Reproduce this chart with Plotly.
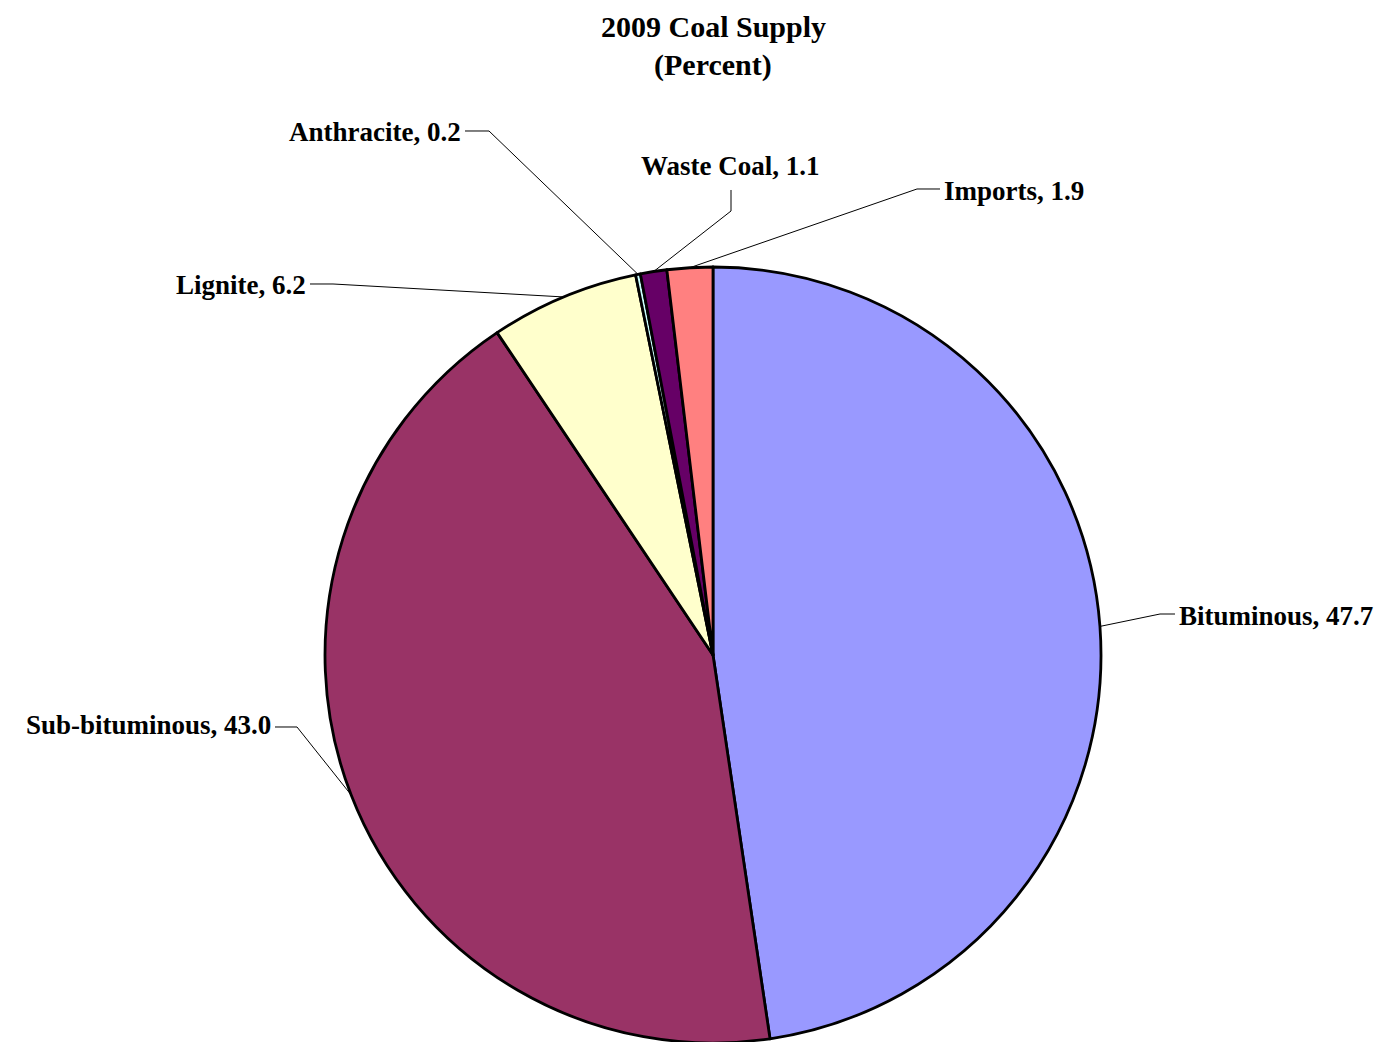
import numpy as np
import plotly.graph_objects as go

# Данные (проценты)
labels = ['Bituminous', 'Sub-bituminous', 'Lignite', 'Anthracite', 'Waste Coal', 'Imports']
values = [47.7, 43.0, 6.2, 0.2, 1.1, 1.9]
colors = ['#9999FF', '#993366', '#FFFFCC', '#CCFFFF', '#660066', '#FF8080']

W, H = 1386, 1042
OFF = 8  # отступ body на странице
# Геометрия круга в пикселях страницы
cx, cy, r = 713, 655, 388

# Точки излома выносок и позиция подписи (пиксели страницы)
elbows = {
    'Bituminous': ((1160, 614), (1175, 614), (1177, 616), 'left'),
    'Sub-bituminous': ((297, 727), (275, 727), (273, 725), 'right'),
    'Lignite': ((333, 284), (310, 284), (308, 285), 'right'),
    'Anthracite': ((489, 131), (465, 131), (463, 132), 'right'),
    'Waste Coal': ((731, 211), (731, 190), (730, 166), 'center'),
    'Imports': ((917, 189), (940, 189), (942, 191), 'left'),
}


def px(x, y):
    return (x - OFF) / W, 1 - (y - OFF) / H


fig = go.Figure()

x0, y0 = px(cx - r, cy + r)
x1, y1 = px(cx + r, cy - r)
fig.add_trace(go.Pie(
    labels=labels,
    values=values,
    sort=False,
    direction='clockwise',
    rotation=0,
    marker=dict(colors=colors, line=dict(color='black', width=2.8)),
    textinfo='none',
    hoverinfo='label+value',
    showlegend=False,
    domain=dict(x=[x0, x1], y=[max(y0, 0), y1]),
))

# Выноски: от середины сектора до подписи
total = sum(values)
cum = np.cumsum(values) - np.array(values) / 2
for lab, val, c in zip(labels, values, cum):
    ang = np.deg2rad(c / total * 360)
    sx, sy = cx + r * np.sin(ang), cy - r * np.cos(ang)
    (ex, ey), (hx, hy), (tx, ty), anchor = elbows[lab]
    pts = [(sx, sy), (ex, ey), (hx, hy)]
    path = 'M ' + ' L '.join('%f,%f' % px(x, y) for x, y in pts)
    fig.add_shape(type='path', path=path, xref='paper', yref='paper',
                  line=dict(color='black', width=1))
    ax, ay = px(tx, ty)
    fig.add_annotation(
        x=ax, y=ay, xref='paper', yref='paper',
        text='<b>%s, %.1f</b>' % (lab, val),
        showarrow=False, xanchor=anchor, yanchor='middle',
        font=dict(family='Liberation Serif', size=27, color='black'),
    )

# Заголовок
for txt, ty in [('2009 Coal Supply', 26), ('(Percent)', 65)]:
    ax, ay = px(713, ty)
    fig.add_annotation(
        x=ax, y=ay, xref='paper', yref='paper',
        text='<b>%s</b>' % txt, showarrow=False,
        xanchor='center', yanchor='middle',
        font=dict(family='Liberation Serif', size=30, color='black'),
    )

fig.update_layout(
    width=W, height=H,
    margin=dict(l=0, r=0, t=0, b=0),
    paper_bgcolor='white',
    plot_bgcolor='white',
    template='plotly_white',
)

fig.write_html('out.html')
